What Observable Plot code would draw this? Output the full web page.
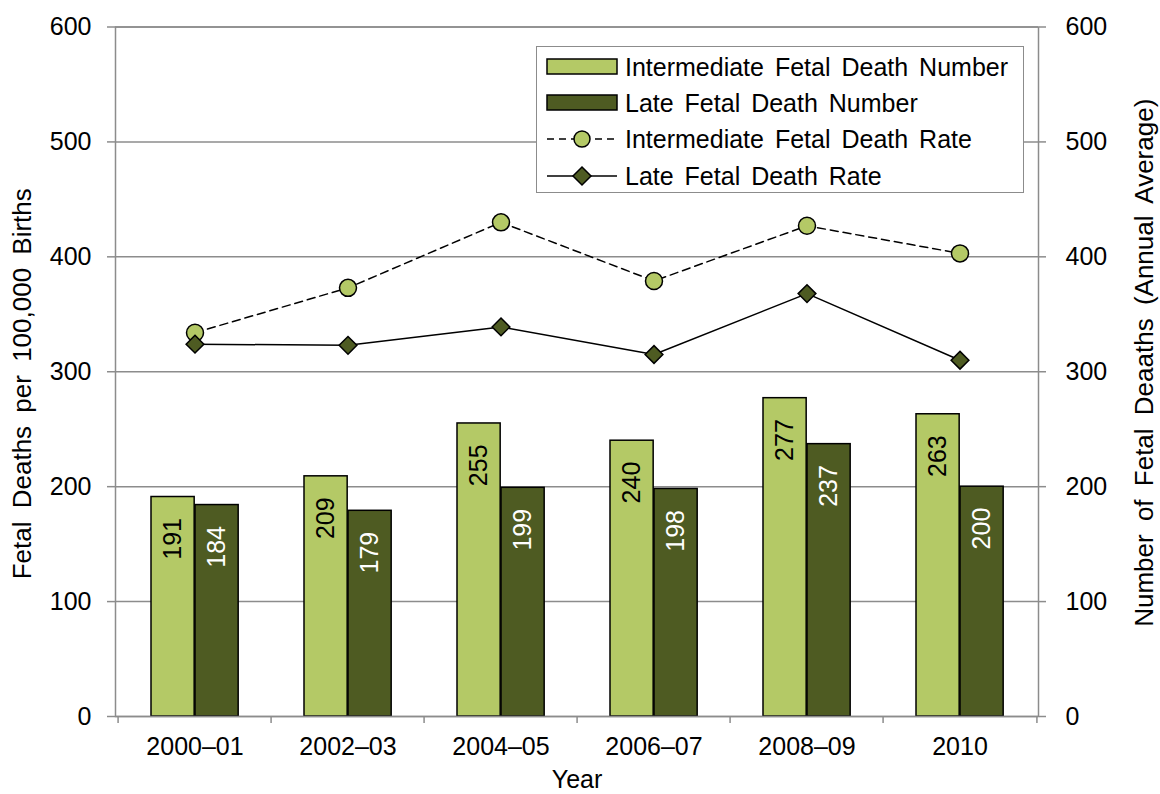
<!DOCTYPE html>
<html>
<head>
<meta charset="utf-8">
<script src="https://cdn.jsdelivr.net/npm/d3@7"></script>
<script src="https://cdn.jsdelivr.net/npm/@observablehq/plot@0.6"></script>
<style>
  html, body { margin: 0; padding: 0; background: #fff; }
  #wrap { position: relative; width: 1160px; height: 794px; font-family: "Liberation Sans", Arial, sans-serif; }
  #wrap svg text { word-spacing: 4px; }
  #wrap svg g.title text { word-spacing: 6px; }
  #legend { position: absolute; left: 536px; top: 46px; width: 486px; height: 145px; border: 1.5px solid #8c8c8c; background: #fff; }
  .row { position: absolute; left: 9px; height: 30px; display: flex; align-items: center; font-size: 25px; color: #000; white-space: nowrap; word-spacing: 4px; }
  .row svg { margin-right: 7px; }
</style>
</head>
<body>
<div id="wrap"></div>
<script>
const years = ["2000–01", "2002–03", "2004–05", "2006–07", "2008–09", "2010"];
const interNumber = [191, 209, 255, 240, 277, 263];
const lateNumber = [184, 179, 199, 198, 237, 200];
const interRate = [334, 373, 430, 379, 427, 403];
const lateRate = [324, 323, 339, 315, 368, 310];
const yTicks = [0, 100, 200, 300, 400, 500, 600];

const lightGreen = "#b4c966";
const darkGreen = "#4e5b22";
const gray = "#8c8c8c";
const FONT = "Liberation Sans, Arial, sans-serif";

const W = 1160, H = 794, mL = 115, mR = 122, mT = 26.5, mB = 78;
const bw = (W - mL - mR) / years.length;

const toRows = (vals) => years.map((y, i) => ({year: y, value: vals[i]}));
const interN = toRows(interNumber), lateN = toRows(lateNumber);
const interR = toRows(interRate), lateR = toRows(lateRate);

const chart = Plot.plot({
  width: W, height: H,
  marginLeft: mL, marginRight: mR, marginTop: mT, marginBottom: mB,
  style: {fontFamily: FONT, fontSize: "25px", color: "#000", background: "#fff"},
  x: {type: "band", domain: years, padding: 0, label: null},
  y: {domain: [0, 600], label: null},
  marks: [
    Plot.gridY(yTicks, {stroke: gray, strokeOpacity: 1, strokeWidth: 1.5}),
    Plot.barY(interN, {x: "year", y: "value", fill: lightGreen, stroke: "#000", strokeWidth: 1.5, insetLeft: 33, insetRight: bw - 77}),
    Plot.barY(lateN, {x: "year", y: "value", fill: darkGreen, stroke: "#000", strokeWidth: 1.5, insetLeft: 77, insetRight: bw - 121}),
    Plot.text(interN, {x: "year", y: "value", text: d => String(d.value), rotate: -90, textAnchor: "end", lineAnchor: "middle", dx: -22, dy: 21, fill: "#000", fontSize: 25}),
    Plot.text(lateN, {x: "year", y: "value", text: d => String(d.value), rotate: -90, textAnchor: "end", lineAnchor: "middle", dx: 22, dy: 21, fill: "#fff", fontSize: 25}),
    Plot.line(interR, {x: "year", y: "value", stroke: "#000", strokeWidth: 1.5, strokeDasharray: "8,5"}),
    Plot.dot(interR, {x: "year", y: "value", r: 8.5, fill: lightGreen, stroke: "#000", strokeWidth: 1.5}),
    Plot.line(lateR, {x: "year", y: "value", stroke: "#000", strokeWidth: 1.5}),
    Plot.dot(lateR, {x: "year", y: "value", symbol: "diamond2", r: 8, fill: darkGreen, stroke: "#000", strokeWidth: 1.5}),
    Plot.frame({stroke: gray, strokeWidth: 1.5}),
    Plot.axisY(yTicks, {anchor: "left", tickSize: 8, tickPadding: 16, stroke: gray, strokeWidth: 1.5, fill: "#000", fontSize: 25, label: null}),
    Plot.axisY(yTicks, {anchor: "right", tickSize: 7, tickPadding: 20, stroke: gray, strokeWidth: 1.5, fill: "#000", fontSize: 25, label: null}),
    Plot.axisX(years, {tickSize: 0, tickPadding: 21, fill: "#000", fontSize: 25, label: null}),
    Plot.axisX(years, {tickSize: 7, stroke: gray, strokeWidth: 1.5, dx: -bw / 2, tickFormat: () => "", label: null}),
    Plot.axisX([years[years.length - 1]], {tickSize: 7, stroke: gray, strokeWidth: 1.5, dx: bw / 2, tickFormat: () => "", label: null}),
    Plot.text(["Fetal Deaths per 100,000 Births"], {frameAnchor: "left", textAnchor: "middle", dx: -93, dy: 12, rotate: -90, fill: "#000", fontSize: 26, lineAnchor: "middle", className: "title"}),
    Plot.text(["Number of Fetal Deaaths (Annual Average)"], {frameAnchor: "right", textAnchor: "middle", dx: 106, dy: -9, rotate: -90, fill: "#000", fontSize: 26, lineAnchor: "middle", className: "title"}),
    Plot.text(["Year"], {frameAnchor: "bottom", textAnchor: "middle", dy: 63, fill: "#000", fontSize: 25, lineAnchor: "middle"})
  ]
});

const wrap = document.getElementById("wrap");
wrap.appendChild(chart);

const legendItems = [
  {label: "Intermediate Fetal Death Number", type: "bar", fill: lightGreen},
  {label: "Late Fetal Death Number", type: "bar", fill: darkGreen},
  {label: "Intermediate Fetal Death Rate", type: "circle", fill: lightGreen},
  {label: "Late Fetal Death Rate", type: "diamond", fill: darkGreen}
];
const rowCenters = [20, 56, 92, 129];
const legend = document.createElement("div");
legend.id = "legend";
legendItems.forEach((it, i) => {
  const row = document.createElement("div");
  row.className = "row";
  row.style.top = (rowCenters[i] - 15) + "px";
  let sw;
  if (it.type === "bar") {
    sw = `<svg width="72" height="18"><rect x="1" y="1" width="70" height="15" fill="${it.fill}" stroke="#000" stroke-width="1.5"/></svg>`;
  } else if (it.type === "circle") {
    sw = `<svg width="72" height="20"><line x1="1" x2="71" y1="10" y2="10" stroke="#000" stroke-width="1.5" stroke-dasharray="7,5"/><circle cx="36" cy="10" r="8" fill="${it.fill}" stroke="#000" stroke-width="1.5"/></svg>`;
  } else {
    sw = `<svg width="72" height="22"><line x1="1" x2="71" y1="11" y2="11" stroke="#000" stroke-width="1.5"/><path d="M36,2 L45,11 L36,20 L27,11 Z" fill="${it.fill}" stroke="#000" stroke-width="1.5"/></svg>`;
  }
  row.innerHTML = sw + `<span>${it.label}</span>`;
  legend.appendChild(row);
});
wrap.appendChild(legend);
</script>
</body>
</html>
